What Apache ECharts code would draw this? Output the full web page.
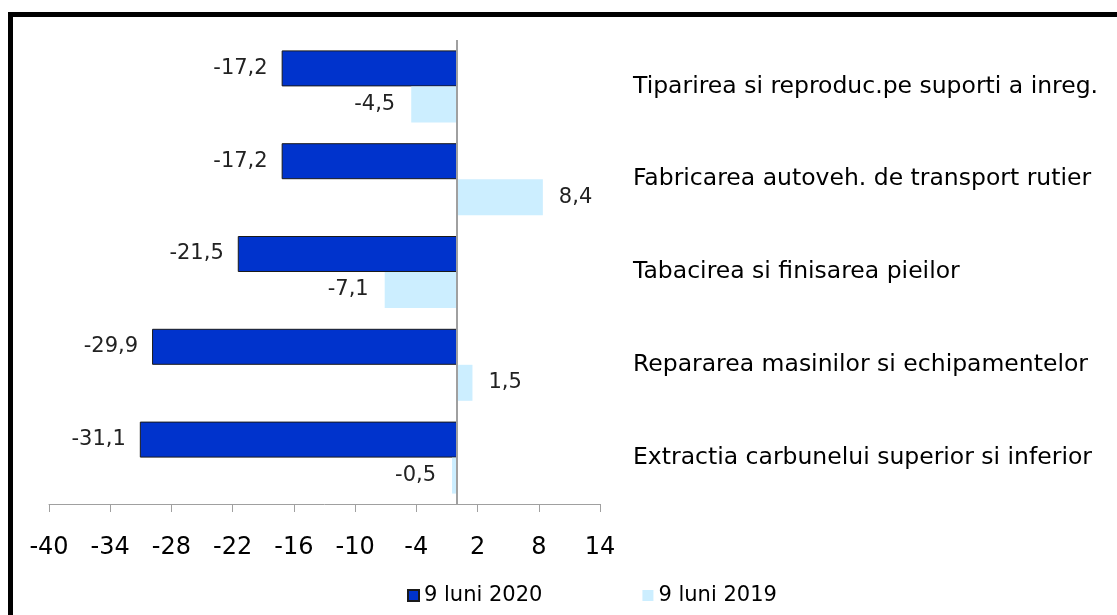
<!DOCTYPE html>
<html>
<head>
<meta charset="utf-8">
<script src="https://cdn.jsdelivr.net/npm/echarts@6/dist/echarts.min.js"></script>
<style>
  html, body { margin: 0; padding: 0; background: #fff; }
  #chart { width: 1117px; height: 615px; }
</style>
</head>
<body>
<div id="chart"></div>
<script>
// categories listed bottom -> top (ECharts category y axis starts at the bottom)
var categories = [
  'Extractia carbunelui superior si inferior',
  'Repararea masinilor si echipamentelor',
  'Tabacirea si finisarea pieilor',
  'Fabricarea autoveh. de transport rutier',
  'Tiparirea si reproduc.pe suporti a inreg.'
];
var values2020 = [-31.1, -29.9, -21.5, -17.2, -17.2];
var values2019 = [-0.5, 1.5, -7.1, 8.4, -4.5];
var seriesNames = ['9 luni 2020', '9 luni 2019'];
var xMin = -40, xMax = 14, xStep = 6;

function fmt (v) {
  return String(v).replace('.', ',');
}
// label on the outer end of each bar
function withLabels (arr) {
  return arr.map(function (v) {
    return { value: v, label: { position: v < 0 ? 'left' : 'right' } };
  });
}

var chart = echarts.init(document.getElementById('chart'), null, { renderer: 'canvas' });
var option = {
  animation: false,
  backgroundColor: '#ffffff',
  graphic: [{
    type: 'rect',
    shape: { x: 10.5, y: 14.5, width: 1200, height: 800 },
    style: { fill: 'none', stroke: '#000', lineWidth: 5 },
    silent: true
  }],
  grid: { left: 49, right: 517, top: 40, bottom: 111 },
  legend: {
    left: 402,
    top: 580,
    itemGap: 100,
    itemWidth: 11,
    itemHeight: 11,
    icon: 'rect',
    textStyle: { fontFamily: 'DejaVu Sans', fontSize: 21, color: '#000' },
    data: seriesNames
  },
  xAxis: {
    type: 'value',
    min: xMin,
    max: xMax,
    interval: xStep,
    splitLine: { show: false },
    axisLine: { show: true, lineStyle: { color: '#a0a0a0', width: 1 } },
    axisTick: { show: true, length: 8, inside: false, lineStyle: { color: '#a0a0a0' } },
    axisLabel: { margin: 32, color: '#000', fontFamily: 'DejaVu Sans', fontSize: 24 }
  },
  yAxis: {
    type: 'category',
    data: categories,
    position: 'right',
    axisLine: { show: false },
    axisTick: { show: false },
    axisLabel: {
      align: 'left',
      margin: 33,
      color: '#000',
      fontFamily: 'DejaVu Sans',
      fontSize: 23.5
    }
  },
  series: [
    {
      name: seriesNames[0],
      type: 'bar',
      barWidth: 36,
      barGap: '0%',
      data: withLabels(values2020),
      itemStyle: { color: '#0033cc', borderColor: '#1a1a1a', borderWidth: 1 },
      label: {
        show: true,
        distance: 14,
        color: '#222',
        fontFamily: 'DejaVu Sans',
        fontSize: 21,
        formatter: function (p) { return fmt(p.value); }
      },
      markLine: {
        silent: true,
        symbol: ['none', 'none'],
        label: { show: false },
        lineStyle: { color: '#a0a0a0', width: 2, type: 'solid' },
        data: [{ xAxis: 0 }]
      }
    },
    {
      name: seriesNames[1],
      type: 'bar',
      barWidth: 36,
      barGap: '0%',
      data: withLabels(values2019),
      itemStyle: { color: '#cceeff' },
      label: {
        show: true,
        distance: 16,
        color: '#222',
        fontFamily: 'DejaVu Sans',
        fontSize: 21,
        formatter: function (p) { return fmt(p.value); }
      }
    }
  ]
};
chart.setOption(option);
</script>
</body>
</html>
